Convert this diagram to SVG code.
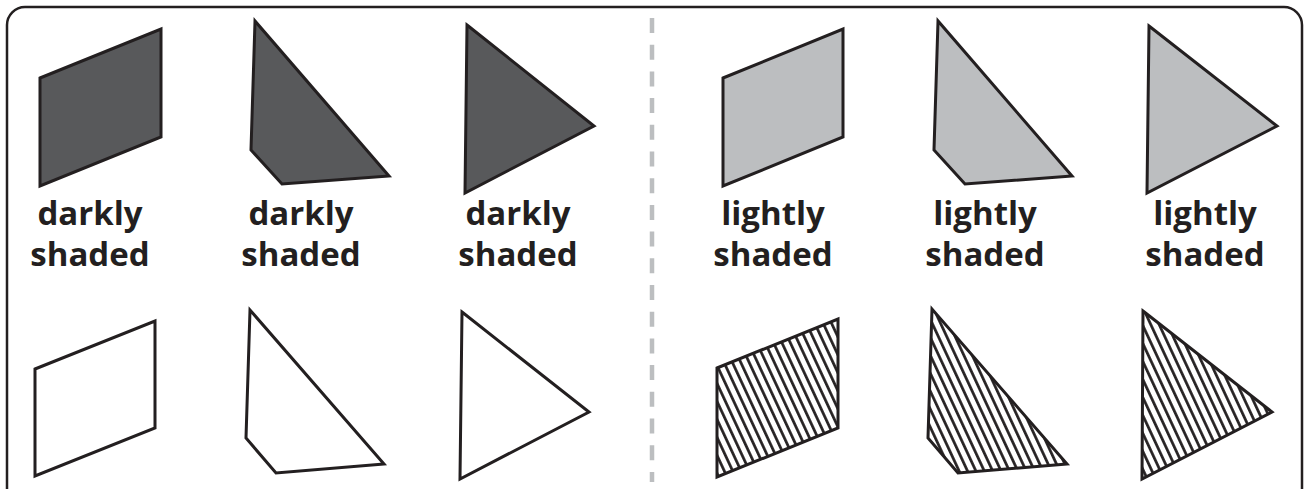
<svg xmlns="http://www.w3.org/2000/svg" width="1308" height="489" viewBox="0 0 1308 489">
  <style>
    .frame { fill: none; stroke: #231f20; stroke-width: 2.5; }
    .divider { stroke: #bcbec0; stroke-width: 4.5; stroke-dasharray: 15 11.7; fill: none; }
    .shape { stroke: #231f20; stroke-width: 3; stroke-linejoin: miter; }
    .dark { fill: #58595b; }
    .light { fill: #bcbec0; }
    .plain { fill: #ffffff; }
    .hatched { fill: url(#hatch); }
    .label { font-family: "Open Sans", "Liberation Sans", sans-serif; font-weight: 700; font-size: 33px; fill: #231f20; text-anchor: middle; }
  </style>
  <defs>
    <pattern id="hatch" patternUnits="userSpaceOnUse" width="7.6" height="20" patternTransform="rotate(-25)">
      <rect x="0" y="0" width="7.6" height="20" fill="#ffffff"/>
      <line x1="1.4" y1="0" x2="1.4" y2="20" stroke="#231f20" stroke-width="2.7"/>
    </pattern>
  </defs>
  <rect x="0" y="0" width="1308" height="489" fill="#ffffff"/>
  <rect class="frame" x="7" y="7" width="1295" height="500" rx="18" ry="18"/>
  <g id="connectors">
    <line class="divider" x1="652" y1="18" x2="652" y2="482"/>
  </g>
  <g id="dark-quad">
    <polygon class="shape dark" points="40,78 161,29 161,137 40,186"/>
    <text class="label" x="90" y="225">darkly</text>
    <text class="label" x="90" y="266">shaded</text>
  </g>
  <g id="dark-pent">
    <polygon class="shape dark" points="255,21 251,150 282,184 389,176"/>
    <text class="label" x="301" y="225">darkly</text>
    <text class="label" x="301" y="266">shaded</text>
  </g>
  <g id="dark-tri">
    <polygon class="shape dark" points="467,25 594,126 465,193"/>
    <text class="label" x="518" y="225">darkly</text>
    <text class="label" x="518" y="266">shaded</text>
  </g>
  <g id="light-quad">
    <polygon class="shape light" points="723,78 843,29 843,137 723,186"/>
    <text class="label" x="773" y="225">lightly</text>
    <text class="label" x="773" y="266">shaded</text>
  </g>
  <g id="light-pent">
    <polygon class="shape light" points="938,21 934,150 965,184 1072,176"/>
    <text class="label" x="985" y="225">lightly</text>
    <text class="label" x="985" y="266">shaded</text>
  </g>
  <g id="light-tri">
    <polygon class="shape light" points="1149,26 1277,126 1147,193"/>
    <text class="label" x="1205" y="225">lightly</text>
    <text class="label" x="1205" y="266">shaded</text>
  </g>
  <g id="plain-quad">
    <polygon class="shape plain" points="35,369 155,321 155,428 35,476"/>
  </g>
  <g id="plain-pent">
    <polygon class="shape plain" points="250,310 246,438 276,473 384,464"/>
  </g>
  <g id="plain-tri">
    <polygon class="shape plain" points="462,312 589,412 460,479"/>
  </g>
  <g id="hatched-quad">
    <polygon class="shape hatched" points="717,368 838,319 838,428 717,477"/>
  </g>
  <g id="hatched-pent">
    <polygon class="shape hatched" points="932,309 928,438 958,473 1067,464"/>
  </g>
  <g id="hatched-tri">
    <polygon class="shape hatched" points="1143,311 1272,412 1142,479"/>
  </g>
</svg>
